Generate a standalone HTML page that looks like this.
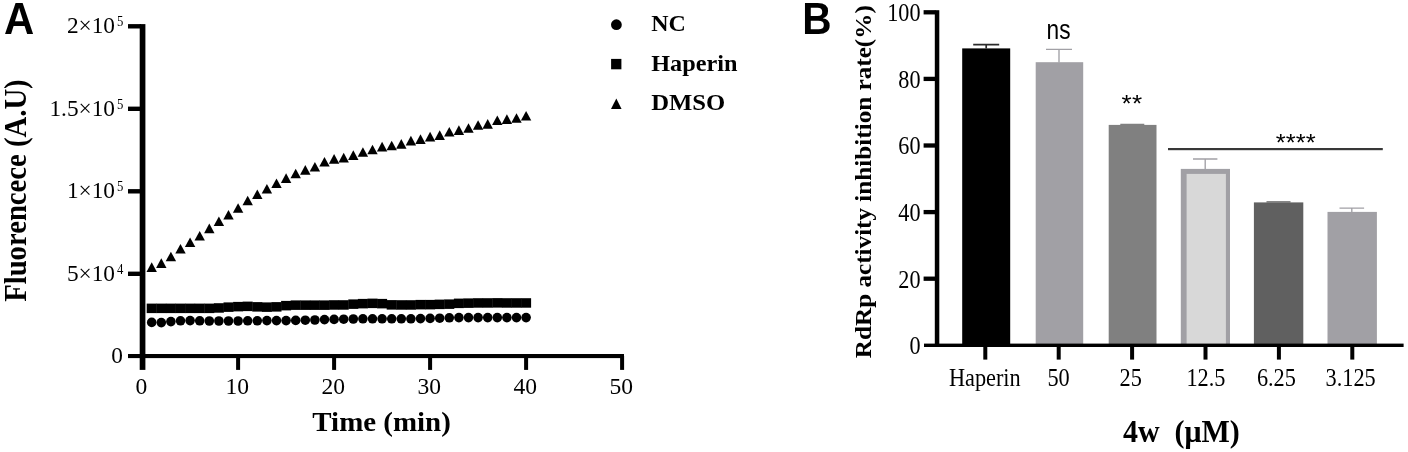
<!DOCTYPE html>
<html><head><meta charset="utf-8"><title>Figure</title>
<style>
html,body{margin:0;padding:0;background:#fff;}
body{width:1408px;height:452px;overflow:hidden;font-family:"Liberation Sans",sans-serif;}
svg{display:block;filter:blur(0.45px);}
.s{font-family:"Liberation Serif",serif;}
.sb{font-family:"Liberation Serif",serif;font-weight:bold;}
.a{font-family:"Liberation Sans",sans-serif;}
.ab{font-family:"Liberation Sans",sans-serif;font-weight:bold;}
</style></head><body>
<svg width="1408" height="452" viewBox="0 0 1408 452">
<rect width="1408" height="452" fill="#fff"/>

<text class="ab" transform="translate(3.90 33.80) scale(0.96 1)" font-size="43.6" text-anchor="start" >A</text>
<text class="ab" transform="translate(802.20 33.80) scale(0.93 1)" font-size="43.6" text-anchor="start" >B</text>
<g fill="#000">
<rect x="139.7" y="24.1" width="5.7" height="345.8"/>
<rect x="128" y="354.0" width="496" height="4.1"/>
<rect x="128" y="271.60" width="13" height="4.4"/>
<rect x="128" y="189.10" width="13" height="4.4"/>
<rect x="128" y="106.60" width="13" height="4.4"/>
<rect x="128" y="24.10" width="13" height="4.4"/>
<rect x="236.10" y="356" width="4" height="13.9"/>
<rect x="332.10" y="356" width="4" height="13.9"/>
<rect x="428.10" y="356" width="4" height="13.9"/>
<rect x="524.10" y="356" width="4" height="13.9"/>
<rect x="620.10" y="356" width="4" height="13.9"/>
</g>
<text class="s" transform="translate(115.00 33.20) scale(1.0 1)" font-size="23.3" text-anchor="end" >2×10</text>
<text class="s" transform="translate(116.90 26.40) scale(0.82 1)" font-size="15.5" text-anchor="start" >5</text>
<text class="s" transform="translate(115.00 115.70) scale(1.0 1)" font-size="23.3" text-anchor="end" >1.5×10</text>
<text class="s" transform="translate(116.90 108.90) scale(0.82 1)" font-size="15.5" text-anchor="start" >5</text>
<text class="s" transform="translate(115.00 198.20) scale(1.0 1)" font-size="23.3" text-anchor="end" >1×10</text>
<text class="s" transform="translate(116.90 191.40) scale(0.82 1)" font-size="15.5" text-anchor="start" >5</text>
<text class="s" transform="translate(115.00 280.70) scale(1.0 1)" font-size="23.3" text-anchor="end" >5×10</text>
<text class="s" transform="translate(116.90 273.90) scale(0.82 1)" font-size="15.5" text-anchor="start" >4</text>
<text class="s" transform="translate(123.00 363.40) scale(1.0 1)" font-size="23.3" text-anchor="end" >0</text>
<text class="s" transform="translate(141.30 393.60) scale(0.99 1)" font-size="23.8" text-anchor="middle" >0</text>
<text class="s" transform="translate(237.30 393.60) scale(0.99 1)" font-size="23.8" text-anchor="middle" >10</text>
<text class="s" transform="translate(333.30 393.60) scale(0.99 1)" font-size="23.8" text-anchor="middle" >20</text>
<text class="s" transform="translate(429.30 393.60) scale(0.99 1)" font-size="23.8" text-anchor="middle" >30</text>
<text class="s" transform="translate(525.30 393.60) scale(0.99 1)" font-size="23.8" text-anchor="middle" >40</text>
<text class="s" transform="translate(621.30 393.60) scale(0.99 1)" font-size="23.8" text-anchor="middle" >50</text>
<text class="sb" x="381.6" y="431.3" font-size="27.5" text-anchor="middle" textLength="138.5" lengthAdjust="spacingAndGlyphs">Time (min)</text>
<text class="sb" transform="translate(25.6,190.6) rotate(-90)" font-size="31" text-anchor="middle" textLength="222.5" lengthAdjust="spacingAndGlyphs">Fluorencece (A.U)</text>
<g fill="#000">
<circle cx="151.7" cy="322.4" r="4.8"/>
<circle cx="161.3" cy="322.6" r="4.8"/>
<circle cx="170.9" cy="321.6" r="4.8"/>
<circle cx="180.5" cy="320.8" r="4.8"/>
<circle cx="190.1" cy="320.6" r="4.8"/>
<circle cx="199.7" cy="320.8" r="4.8"/>
<circle cx="209.3" cy="321.0" r="4.8"/>
<circle cx="218.9" cy="321.0" r="4.8"/>
<circle cx="228.5" cy="321.0" r="4.8"/>
<circle cx="238.1" cy="321.0" r="4.8"/>
<circle cx="247.7" cy="320.8" r="4.8"/>
<circle cx="257.3" cy="320.8" r="4.8"/>
<circle cx="266.9" cy="320.6" r="4.8"/>
<circle cx="276.5" cy="320.6" r="4.8"/>
<circle cx="286.1" cy="320.6" r="4.8"/>
<circle cx="295.7" cy="320.4" r="4.8"/>
<circle cx="305.3" cy="320.2" r="4.8"/>
<circle cx="314.9" cy="320.0" r="4.8"/>
<circle cx="324.5" cy="319.6" r="4.8"/>
<circle cx="334.1" cy="319.4" r="4.8"/>
<circle cx="343.7" cy="319.2" r="4.8"/>
<circle cx="353.3" cy="319.0" r="4.8"/>
<circle cx="362.9" cy="318.8" r="4.8"/>
<circle cx="372.5" cy="318.8" r="4.8"/>
<circle cx="382.1" cy="318.8" r="4.8"/>
<circle cx="391.7" cy="318.8" r="4.8"/>
<circle cx="401.3" cy="318.8" r="4.8"/>
<circle cx="410.9" cy="318.8" r="4.8"/>
<circle cx="420.5" cy="318.6" r="4.8"/>
<circle cx="430.1" cy="318.4" r="4.8"/>
<circle cx="439.7" cy="318.2" r="4.8"/>
<circle cx="449.3" cy="317.8" r="4.8"/>
<circle cx="458.9" cy="317.6" r="4.8"/>
<circle cx="468.5" cy="317.6" r="4.8"/>
<circle cx="478.1" cy="317.6" r="4.8"/>
<circle cx="487.7" cy="317.6" r="4.8"/>
<circle cx="497.3" cy="317.6" r="4.8"/>
<circle cx="506.9" cy="317.6" r="4.8"/>
<circle cx="516.5" cy="317.6" r="4.8"/>
<circle cx="526.1" cy="317.6" r="4.8"/>
<rect x="146.7" y="303.6" width="10.0" height="9.5"/>
<rect x="156.3" y="303.6" width="10.0" height="9.5"/>
<rect x="165.9" y="303.6" width="10.0" height="9.5"/>
<rect x="175.5" y="303.6" width="10.0" height="9.5"/>
<rect x="185.1" y="303.6" width="10.0" height="9.5"/>
<rect x="194.7" y="303.6" width="10.0" height="9.5"/>
<rect x="204.3" y="303.6" width="10.0" height="9.5"/>
<rect x="213.9" y="303.2" width="10.0" height="9.5"/>
<rect x="223.5" y="302.4" width="10.0" height="9.5"/>
<rect x="233.1" y="301.9" width="10.0" height="9.5"/>
<rect x="242.7" y="301.6" width="10.0" height="9.5"/>
<rect x="252.3" y="302.1" width="10.0" height="9.5"/>
<rect x="261.9" y="302.4" width="10.0" height="9.5"/>
<rect x="271.5" y="302.1" width="10.0" height="9.5"/>
<rect x="281.1" y="300.9" width="10.0" height="9.5"/>
<rect x="290.7" y="300.4" width="10.0" height="9.5"/>
<rect x="300.3" y="300.4" width="10.0" height="9.5"/>
<rect x="309.9" y="300.4" width="10.0" height="9.5"/>
<rect x="319.5" y="300.4" width="10.0" height="9.5"/>
<rect x="329.1" y="300.2" width="10.0" height="9.5"/>
<rect x="338.7" y="300.2" width="10.0" height="9.5"/>
<rect x="348.3" y="299.4" width="10.0" height="9.5"/>
<rect x="357.9" y="298.9" width="10.0" height="9.5"/>
<rect x="367.5" y="298.6" width="10.0" height="9.5"/>
<rect x="377.1" y="298.9" width="10.0" height="9.5"/>
<rect x="386.7" y="300.1" width="10.0" height="9.5"/>
<rect x="396.3" y="300.2" width="10.0" height="9.5"/>
<rect x="405.9" y="300.2" width="10.0" height="9.5"/>
<rect x="415.5" y="299.9" width="10.0" height="9.5"/>
<rect x="425.1" y="299.9" width="10.0" height="9.5"/>
<rect x="434.7" y="299.6" width="10.0" height="9.5"/>
<rect x="444.3" y="299.4" width="10.0" height="9.5"/>
<rect x="453.9" y="298.6" width="10.0" height="9.5"/>
<rect x="463.5" y="298.4" width="10.0" height="9.5"/>
<rect x="473.1" y="298.2" width="10.0" height="9.5"/>
<rect x="482.7" y="298.2" width="10.0" height="9.5"/>
<rect x="492.3" y="298.1" width="10.0" height="9.5"/>
<rect x="501.9" y="298.2" width="10.0" height="9.5"/>
<rect x="511.5" y="298.2" width="10.0" height="9.5"/>
<rect x="521.1" y="298.2" width="10.0" height="9.5"/>
<path d="M146.5 271.9L156.9 271.9L151.7 262.3Z"/>
<path d="M156.1 267.9L166.5 267.9L161.3 258.3Z"/>
<path d="M165.7 261.3L176.1 261.3L170.9 251.7Z"/>
<path d="M175.3 253.6L185.7 253.6L180.5 244.0Z"/>
<path d="M184.9 247.1L195.3 247.1L190.1 237.5Z"/>
<path d="M194.5 240.5L204.9 240.5L199.7 230.9Z"/>
<path d="M204.1 233.2L214.5 233.2L209.3 223.6Z"/>
<path d="M213.7 226.1L224.1 226.1L218.9 216.5Z"/>
<path d="M223.3 219.5L233.7 219.5L228.5 209.9Z"/>
<path d="M232.9 212.8L243.3 212.8L238.1 203.2Z"/>
<path d="M242.5 205.3L252.9 205.3L247.7 195.7Z"/>
<path d="M252.1 199.0L262.5 199.0L257.3 189.4Z"/>
<path d="M261.7 193.6L272.1 193.6L266.9 184.0Z"/>
<path d="M271.3 188.0L281.7 188.0L276.5 178.4Z"/>
<path d="M280.9 182.9L291.3 182.9L286.1 173.3Z"/>
<path d="M290.5 178.3L300.9 178.3L295.7 168.7Z"/>
<path d="M300.1 174.7L310.5 174.7L305.3 165.1Z"/>
<path d="M309.7 171.6L320.1 171.6L314.9 162.0Z"/>
<path d="M319.3 166.6L329.7 166.6L324.5 157.0Z"/>
<path d="M328.9 163.7L339.3 163.7L334.1 154.1Z"/>
<path d="M338.5 162.4L348.9 162.4L343.7 152.8Z"/>
<path d="M348.1 159.9L358.5 159.9L353.3 150.3Z"/>
<path d="M357.7 156.8L368.1 156.8L362.9 147.2Z"/>
<path d="M367.3 154.3L377.7 154.3L372.5 144.7Z"/>
<path d="M376.9 151.4L387.3 151.4L382.1 141.8Z"/>
<path d="M386.5 150.3L396.9 150.3L391.7 140.7Z"/>
<path d="M396.1 148.7L406.5 148.7L401.3 139.1Z"/>
<path d="M405.7 145.4L416.1 145.4L410.9 135.8Z"/>
<path d="M415.3 143.9L425.7 143.9L420.5 134.3Z"/>
<path d="M424.9 141.4L435.3 141.4L430.1 131.8Z"/>
<path d="M434.5 139.9L444.9 139.9L439.7 130.3Z"/>
<path d="M444.1 136.6L454.5 136.6L449.3 127.0Z"/>
<path d="M453.7 134.9L464.1 134.9L458.9 125.3Z"/>
<path d="M463.3 132.8L473.7 132.8L468.5 123.2Z"/>
<path d="M472.9 129.8L483.3 129.8L478.1 120.2Z"/>
<path d="M482.5 128.7L492.9 128.7L487.7 119.1Z"/>
<path d="M492.1 125.0L502.5 125.0L497.3 115.4Z"/>
<path d="M501.7 123.9L512.1 123.9L506.9 114.3Z"/>
<path d="M511.3 122.8L521.7 122.8L516.5 113.2Z"/>
<path d="M520.9 120.5L531.3 120.5L526.1 110.9Z"/>
</g>
<g fill="#000">
<circle cx="616.4" cy="24.7" r="5.4"/>
<rect x="611.1" y="58.9" width="10.3" height="10.4"/>
<path d="M611 108.9L621.6 108.9L616.3 98.6Z"/>
</g>
<text class="sb" x="651.2" y="31.3" font-size="22.5" textLength="34.6" lengthAdjust="spacingAndGlyphs">NC</text>
<text class="sb" x="651.2" y="71.1" font-size="22.5" textLength="86.2" lengthAdjust="spacingAndGlyphs">Haperin</text>
<text class="sb" x="651.2" y="110.2" font-size="22.5" textLength="74" lengthAdjust="spacingAndGlyphs">DMSO</text>
<text class="s" transform="translate(920.50 354.10) scale(0.87 1)" font-size="25.5" text-anchor="end" >0</text>
<text class="s" transform="translate(920.50 287.50) scale(0.87 1)" font-size="25.5" text-anchor="end" >20</text>
<text class="s" transform="translate(920.50 220.90) scale(0.87 1)" font-size="25.5" text-anchor="end" >40</text>
<text class="s" transform="translate(920.50 154.30) scale(0.87 1)" font-size="25.5" text-anchor="end" >60</text>
<text class="s" transform="translate(920.50 87.70) scale(0.87 1)" font-size="25.5" text-anchor="end" >80</text>
<text class="s" transform="translate(920.50 21.10) scale(0.87 1)" font-size="25.5" text-anchor="end" >100</text>
<rect x="962.2" y="48.4" width="48.0" height="296.9" fill="#000000"/>
<rect x="1035.7" y="62.2" width="47.5" height="283.1" fill="#a1a0a5"/>
<rect x="1108.7" y="124.9" width="47.8" height="220.4" fill="#808080"/>
<rect x="1180.8" y="168.9" width="49.2" height="176.4" fill="#a1a0a5"/>
<rect x="1253.9" y="202.4" width="49.4" height="142.9" fill="#606060"/>
<rect x="1327.5" y="211.9" width="49.4" height="133.4" fill="#a1a0a5"/>
<rect x="1186.6" y="173.9" width="39.3" height="171.4" fill="#d8d8d8"/>
<g fill="#000">
<rect x="934.8" y="10.2" width="4.5" height="336.8"/>
<rect x="924" y="343.6" width="479.6" height="3.4"/>
<rect x="923.6" y="276.55" width="12" height="4.3"/>
<rect x="923.6" y="209.95" width="12" height="4.3"/>
<rect x="923.6" y="143.35" width="12" height="4.3"/>
<rect x="923.6" y="76.75" width="12" height="4.3"/>
<rect x="923.6" y="10.15" width="12" height="4.3"/>
<rect x="983.30" y="345.3" width="4" height="14.3"/>
<rect x="1056.70" y="345.3" width="4" height="14.3"/>
<rect x="1130.10" y="345.3" width="4" height="14.3"/>
<rect x="1203.50" y="345.3" width="4" height="14.3"/>
<rect x="1276.90" y="345.3" width="4" height="14.3"/>
<rect x="1350.30" y="345.3" width="4" height="14.3"/>
</g>
<path d="M973.2 44.7H999.2M986.2 44.7V48.5" stroke="#2b2b2b" stroke-width="1.7" fill="none"/>
<path d="M1046.0 49.3H1072.0M1059.0 49.3V62.4" stroke="#a1a0a5" stroke-width="1.35" fill="none"/>
<path d="M1120.3 124.3H1144.3M1132.3 124.3V125.0" stroke="#808080" stroke-width="1.35" fill="none"/>
<path d="M1193.0 159.0H1217.4M1205.2 159.0V169.0" stroke="#a1a0a5" stroke-width="1.35" fill="none"/>
<path d="M1266.5 201.8H1290.5M1278.5 201.8V202.6" stroke="#606060" stroke-width="1.35" fill="none"/>
<path d="M1339.5 208.1H1364.1M1351.8 208.1V212.0" stroke="#a1a0a5" stroke-width="1.35" fill="none"/>
<text class="a" transform="translate(1058.60 39.20) scale(0.835 1)" font-size="27.2" text-anchor="middle" >ns</text>
<text class="a" transform="translate(1131.90 111.90) scale(1.09 1)" font-size="24" text-anchor="middle" letter-spacing="0.3">**</text>
<text class="a" transform="translate(1295.70 151.00) scale(1.04 1)" font-size="24.6" text-anchor="middle" >****</text>
<rect x="1168" y="148.0" width="214.8" height="2.2" fill="#383838"/>
<text class="s" transform="translate(984.80 385.80) scale(0.865 1)" font-size="25.8" text-anchor="middle" >Haperin</text>
<text class="s" transform="translate(1058.60 385.80) scale(0.865 1)" font-size="25.8" text-anchor="middle" >50</text>
<text class="s" transform="translate(1130.70 385.80) scale(0.865 1)" font-size="25.8" text-anchor="middle" >25</text>
<text class="s" transform="translate(1205.90 385.80) scale(0.865 1)" font-size="25.8" text-anchor="middle" >12.5</text>
<text class="s" transform="translate(1276.40 385.80) scale(0.865 1)" font-size="25.8" text-anchor="middle" >6.25</text>
<text class="s" transform="translate(1350.60 385.80) scale(0.865 1)" font-size="25.8" text-anchor="middle" >3.125</text>
<text class="sb" x="1123" y="441.6" font-size="30.8" style="white-space:pre" textLength="116.8" lengthAdjust="spacingAndGlyphs">4w  (μM)</text>
<text class="sb" transform="translate(870.9,181.7) rotate(-90)" font-size="24" text-anchor="middle" textLength="353" lengthAdjust="spacingAndGlyphs">RdRp activity inhibition rate(%)</text>
</svg></body></html>
